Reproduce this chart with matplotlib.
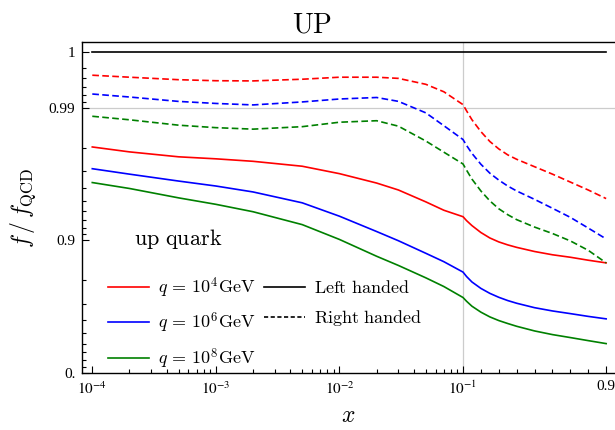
import matplotlib
matplotlib.use("Agg")
import matplotlib.pyplot as plt
import numpy as np
from matplotlib.ticker import FixedLocator, FixedFormatter, NullFormatter
from matplotlib.font_manager import FontProperties

plt.rcParams['font.family'] = ['Liberation Serif', 'DejaVu Serif']
plt.rcParams['mathtext.fontset'] = 'stix'

# momentum fraction grid
x = [1e-4, 2e-4, 5e-4, 1e-3, 2e-3, 5e-3, 1e-2, 2e-2, 3e-2, 5e-2, 7e-2, 0.1,
     0.12, 0.15, 0.2, 0.25, 0.3, 0.35, 0.4, 0.5, 0.6, 0.7, 0.8, 0.9]

# left handed (solid)
lh_q4 = [0.98028, 0.97852, 0.9766, 0.97577, 0.9747, 0.97244, 0.96865, 0.96309, 0.95837, 0.94883,
         0.94080, 0.93379, 0.92909, 0.92271, 0.91283, 0.90420, 0.89739, 0.89195, 0.88720, 0.87878,
         0.87170, 0.86606, 0.85898, 0.8523]
lh_q6 = [0.97123, 0.96838, 0.96434, 0.96114, 0.95692, 0.94796, 0.93436, 0.91433, 0.89948, 0.87497,
         0.85531, 0.8267, 0.81275, 0.79419, 0.76987, 0.74924, 0.73145, 0.71579, 0.70220, 0.67832,
         0.65956, 0.64341, 0.62584, 0.6094]
lh_q8 = [0.96341, 0.95944, 0.95225, 0.94659, 0.93925, 0.92401, 0.90171, 0.86835, 0.84557, 0.80852,
         0.77726, 0.7305, 0.71224, 0.68645, 0.65238, 0.62254, 0.59773, 0.57650, 0.55564, 0.51823,
         0.48662, 0.45944, 0.42992, 0.3997]

# right handed (dashed)
rh_q4 = [0.99433, 0.99413, 0.99387, 0.99376, 0.99374, 0.99392, 0.99413, 0.99413, 0.99401, 0.99336,
         0.99244, 0.99055, 0.98947, 0.98771, 0.98490, 0.98207, 0.97960, 0.97738, 0.97557, 0.97220,
         0.96838, 0.96371, 0.95835, 0.95166]
rh_q6 = [0.99214, 0.99172, 0.99106, 0.99074, 0.9905, 0.99098, 0.99143, 0.99165, 0.99107, 0.98910,
         0.98637, 0.98267, 0.98079, 0.97795, 0.97337, 0.96891, 0.96494, 0.96113, 0.95764, 0.95099,
         0.94280, 0.93300, 0.91933, 0.90255]
rh_q8 = [0.98843, 0.9877, 0.98649, 0.9859, 0.98553, 0.98614, 0.98717, 0.9875, 0.98626, 0.98222,
         0.97841, 0.97351, 0.97048, 0.96553, 0.95765, 0.94971, 0.94230, 0.93604, 0.93030, 0.92070,
         0.91134, 0.89914, 0.88124, 0.85230]

qcd = [1.0] * len(x)

colors = ['#ff0000', '#0000ff', '#008000']
q_labels = [r'$q\,=\,10^{4}\mathrm{GeV}$', r'$q\,=\,10^{6}\mathrm{GeV}$', r'$q\,=\,10^{8}\mathrm{GeV}$']

# x axis: log below 0.1, linear above
K = 1.448


def xfwd(v):
    v = np.asarray(v, dtype=float)
    lg = np.log10(np.clip(v, 1e-12, None))
    return np.where(v <= 0.1, lg, -1 + (v - 0.1) * K)


def xinv(u):
    u = np.asarray(u, dtype=float)
    return np.where(u <= -1, 10.0 ** np.minimum(u, 0), 0.1 + (u + 1) / K)


# y axis: -log10(1-f), squeezed past 0.996
F0 = 0.996
U0 = -np.log10(1 - F0)
S = 6.8


def yfwd(v):
    v = np.asarray(v, dtype=float)
    lg = -np.log10(np.clip(1 - v, 1e-12, None))
    return np.where(v <= F0, lg, U0 + (v - F0) * S)


def yinv(u):
    u = np.asarray(u, dtype=float)
    return np.where(u <= U0, 1 - 10.0 ** (-np.minimum(u, U0)), F0 + (u - U0) / S)


fig = plt.figure(figsize=(6.15, 4.3), dpi=100)
ax = fig.add_axes([0.1338, 0.1326, 0.8662, 0.7698])
ax.set_xscale('function', functions=(xfwd, xinv))
ax.set_yscale('function', functions=(yfwd, yinv))

ax.axhline(0.99, color='#cccccc', lw=0.9, zorder=0)
ax.axvline(0.1, color='#cccccc', lw=0.9, zorder=0)

lw = 1.2
ax.plot(x, qcd, color='black', lw=lw)
for lh, rh, c in zip([lh_q4, lh_q6, lh_q8], [rh_q4, rh_q6, rh_q8], colors):
    ax.plot(x, lh, color=c, lw=lw)
    ax.plot(x, rh, color=c, lw=lw, dashes=(4, 2))

ax.set_xlim(8.3e-5, 0.9495)
ax.set_ylim(0, 1.0106)

xmaj = [1e-4, 1e-3, 1e-2, 0.1, 0.9]
xmin = [m * 10.0 ** e for e in (-4, -3, -2) for m in range(2, 10)] + [0.2, 0.3, 0.4, 0.5, 0.6, 0.7, 0.8]
ax.xaxis.set_major_locator(FixedLocator(xmaj))
ax.xaxis.set_major_formatter(FixedFormatter([r'$10^{-4}$', r'$10^{-3}$', r'$10^{-2}$', r'$10^{-1}$', '0.9']))
ax.xaxis.set_minor_locator(FixedLocator(xmin))
ax.xaxis.set_minor_formatter(NullFormatter())

ymaj = [0.0, 0.9, 0.99, 1.0]
ymin = [i / 10 for i in range(1, 9)] + [0.9 + i / 100 for i in range(1, 9)] + [0.99 + i / 1000 for i in range(1, 6)]
ax.yaxis.set_major_locator(FixedLocator(ymaj))
ax.yaxis.set_major_formatter(FixedFormatter(['0.', '0.9', '0.99', '1']))
ax.yaxis.set_minor_locator(FixedLocator(ymin))
ax.yaxis.set_minor_formatter(NullFormatter())

ax.tick_params(which='both', direction='in', top=False, right=False, labelsize=11, width=0.8)
ax.tick_params(which='major', length=5, pad=5)
ax.tick_params(which='minor', length=3)
ax.spines['right'].set_visible(False)
for s in ('left', 'bottom', 'top'):
    ax.spines[s].set_linewidth(1.0)

cm = lambda size: FontProperties(size=size, math_fontfamily='cm')
ax.set_title(r'$\mathrm{UP}$', fontproperties=cm(20), pad=7, x=0.431)
ax.set_xlabel(r'$x$', fontproperties=cm(17), labelpad=6)
ax.set_ylabel(r'$f\,/\,f_{\mathrm{QCD}}$', fontproperties=cm(17), labelpad=8)

ax.text(0.18, 0.405, r'$\mathrm{up\ quark}$', transform=ax.transAxes,
        fontproperties=cm(16), ha='center', va='center')

handles = []
for c in colors:
    handles.append(plt.Line2D([], [], color=c, lw=lw))
handles.append(plt.Line2D([], [], color='black', lw=lw))
handles.append(plt.Line2D([], [], color='black', lw=lw, dashes=(2.5, 1.5)))
handles.append(plt.Line2D([], [], color='none'))
labels = q_labels + [r'$\mathrm{Left\ handed}$', r'$\mathrm{Right\ handed}$', '']
ax.legend(handles, labels, ncol=2, loc='upper left', bbox_to_anchor=(0.048, 0.295),
          frameon=False, prop=cm(13), handlelength=2.3, handletextpad=0.45,
          labelspacing=0.6, columnspacing=0.5, borderpad=0, borderaxespad=0)

fig.savefig('out.png', dpi=100)
